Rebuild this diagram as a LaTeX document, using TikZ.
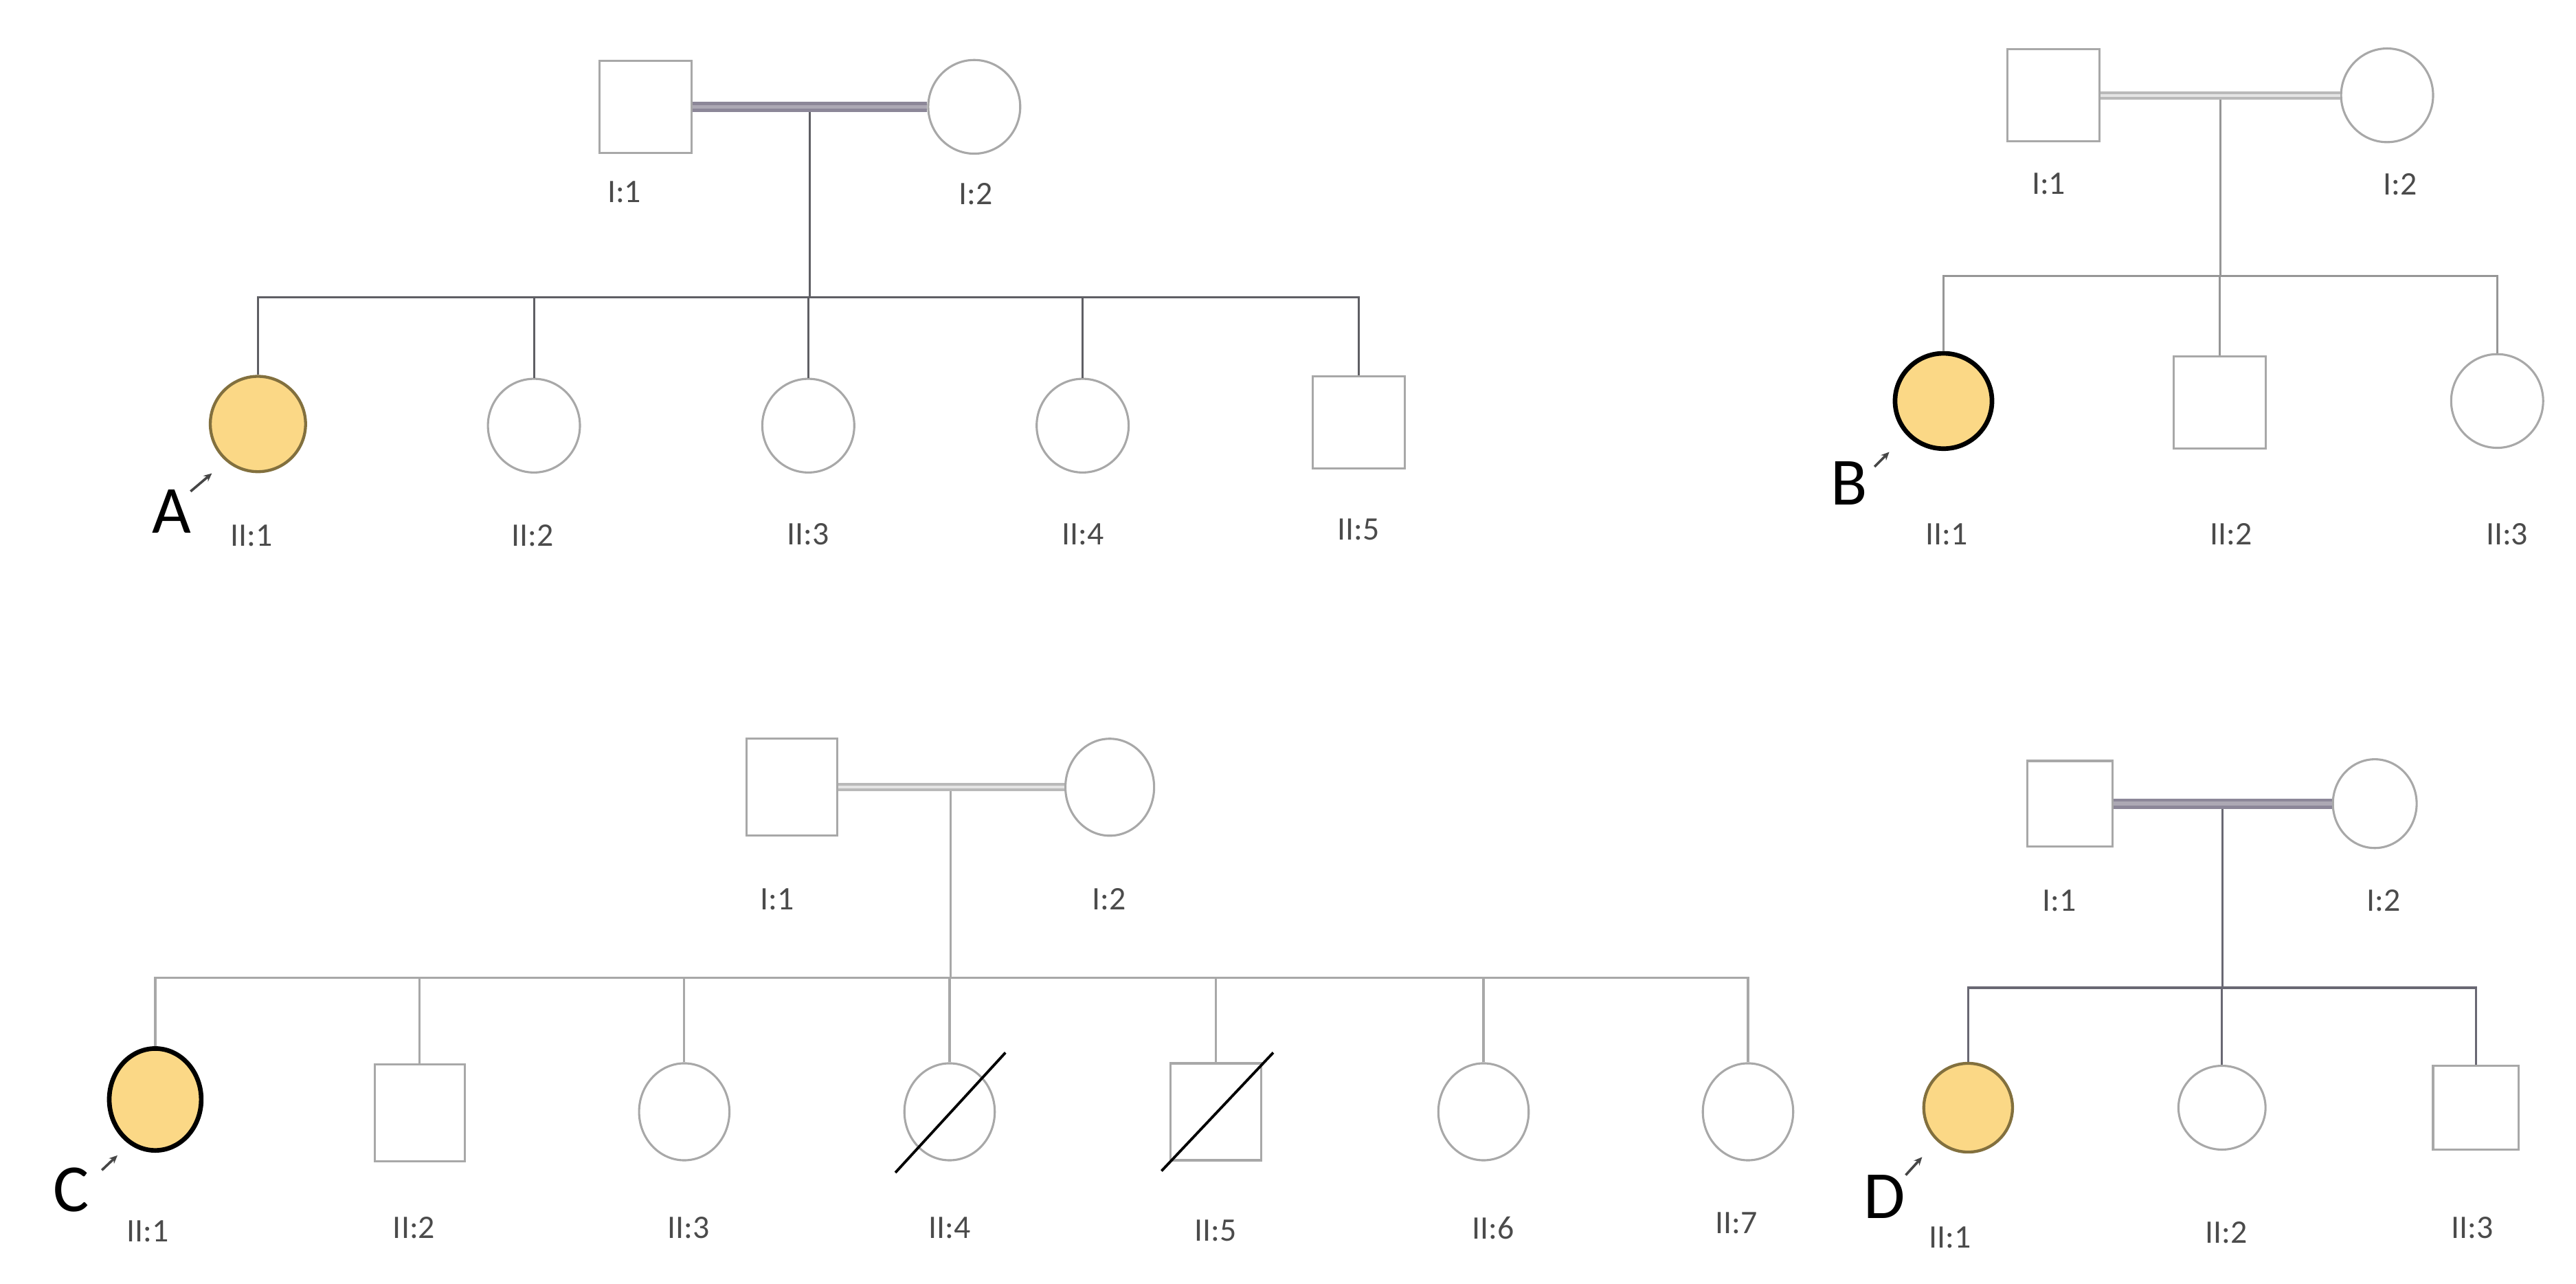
\documentclass[tikz,border=0pt]{standalone}
\usepackage{fontspec}
\setmainfont{Carlito}
\usepackage{xcolor}
\usepackage{tikz}
\usetikzlibrary{arrows.meta, shapes.geometric, calc}
\definecolor{affyellow}{RGB}{251,216,134}
\definecolor{affedge}{RGB}{130,112,62}
\definecolor{symgray}{RGB}{168,168,168}
\definecolor{lbldark}{RGB}{75,75,75}
\definecolor{linedark}{RGB}{95,95,100}
\definecolor{linemid}{RGB}{150,150,150}
\definecolor{linelight}{RGB}{168,168,168}
\definecolor{lineplum}{RGB}{105,104,115}
\definecolor{matedark}{RGB}{140,135,152}
\definecolor{matedarkin}{RGB}{172,168,180}
\definecolor{matelight}{RGB}{185,185,185}
\definecolor{matelightin}{RGB}{228,228,228}
\definecolor{pointgray}{RGB}{70,70,70}
\tikzset{
  male/.style={rectangle, draw=symgray, line width=1.3pt, minimum size=56pt, inner sep=0pt},
  female/.style={ellipse, draw=symgray, line width=1.3pt, minimum width=56pt, minimum height=57pt, inner sep=0pt},
  affected/.style={fill=affyellow, draw=affedge, line width=1.8pt},
  affblack/.style={fill=affyellow, draw=black, line width=2.8pt},
  line/.style={line width=1.3pt},
  mate/.style={double, line width=1.9pt, double distance=2.4pt},
  gone/.style={line width=1.6pt, color=black},
  idlabel/.style={font=\fontsize{20}{24}\selectfont, text=lbldark, inner sep=0pt},
  lettertag/.style={font=\fontsize{41}{48}\selectfont, inner sep=0pt},
  pointer/.style={-{Stealth[length=5pt, width=4.5pt]}, line width=1.5pt, color=pointgray}
}

\begin{document}
\begin{tikzpicture}[x=1pt, y=-1pt]
  \useasboundingbox (0,0) rectangle (1568,781);

  % Family A
  \node[male] (a11) at (393,65) {};
  \node[female] (a12) at (593,65) {};
  \coordinate (am) at ($(a11)!0.5!(a12)$);
  \coordinate (as) at (am |- 0,181);
  \node[female, affected, minimum width=58pt, minimum height=58pt] (a21) at (157,258) {};
  \node[female] (a22) at (325,259) {};
  \node[female] (a23) at (492,259) {};
  \node[female] (a24) at (659,259) {};
  \node[male] (a25) at (827,257) {};
  \draw[line, linedark] (am) -- (as);
  \draw[line, linedark] (a21.north) |- (as) -| (a25.north);
  \draw[line, linedark] (a22.north) -- (a22.north |- as);
  \draw[line, linedark] (a23.north) -- (a23.north |- as);
  \draw[line, linedark] (a24.north) -- (a24.north |- as);
  \draw[mate, draw=matedark, double=matedarkin] (a11) -- (a12);
  \node[idlabel] (la11) at (380,117) {I:1};
  \node[idlabel] (la12) at (594,118) {I:2};
  \node[idlabel] (la21) at (153,326) {II:1};
  \node[idlabel] (la22) at (324,326) {II:2};
  \node[idlabel] (la23) at (492,325) {II:3};
  \node[idlabel] (la24) at (659,325) {II:4};
  \node[idlabel] (la25) at (827,322) {II:5};
  \node[lettertag] (tagA) at (104.5,311) {A};
  \draw[pointer] ($(tagA)+(11.5,-12)$) -- ($(a21)+(-28,30)$);

  % Family B
  \node[male] (b11) at (1250,58) {};
  \node[female] (b12) at (1453,58) {};
  \coordinate (bm) at ($(b11)!0.5!(b12)$);
  \coordinate (bs) at (bm |- 0,168);
  \node[female, affblack, minimum width=59pt, minimum height=58pt] (b21) at (1183,244) {};
  \node[male] (b22) at (1351,245) {};
  \node[female] (b23) at (1520,244) {};
  \draw[line, linemid] (bm) -- (bs);
  \draw[line, linemid] (b21.north) |- (bs) -| (b23.north);
  \draw[line, linemid] (b22.north) -- (b22.north |- bs);
  \draw[mate, draw=matelight, double=matelightin, line width=1.6pt, double distance=1.8pt] (b11) -- (b12);
  \node[idlabel] (lb11) at (1247,112) {I:1};
  \node[idlabel] (lb12) at (1461,112) {I:2};
  \node[idlabel] (lb21) at (1185,325) {II:1};
  \node[idlabel] (lb22) at (1358,325) {II:2};
  \node[idlabel] (lb23) at (1526,325) {II:3};
  \node[lettertag] (tagB) at (1125.5,294) {B};
  \draw[pointer] ($(tagB)+(15.5,-10)$) -- ($(b21)+(-33,31)$);

  % Family C
  \node[male, minimum width=55pt, minimum height=59pt] (c11) at (482,479) {};
  \node[female, minimum width=54pt, minimum height=59pt] (c12) at (675.5,479) {};
  \coordinate (cm) at ($(c11)!0.5!(c12)$);
  \coordinate (cs) at (cm |- 0,595);
  \node[female, affblack, minimum width=56pt, minimum height=62pt] (c21) at (94.5,669) {};
  \node[male, minimum width=55pt, minimum height=59pt] (c22) at (255.5,677) {};
  \node[female, minimum width=55pt, minimum height=59pt] (c23) at (416.5,676.5) {};
  \node[female, minimum width=55pt, minimum height=59pt] (c24) at (578,676.5) {};
  \node[male, minimum width=55pt, minimum height=59pt] (c25) at (740,676.5) {};
  \node[female, minimum width=55pt, minimum height=59pt] (c26) at (903,676.5) {};
  \node[female, minimum width=55pt, minimum height=59pt] (c27) at (1064,676.5) {};
  \draw[line, linelight] (cm) -- (cs);
  \draw[line, linelight] (c21.north) |- (cs) -| (c27.north);
  \draw[line, linelight] (c22.north) -- (c22.north |- cs);
  \draw[line, linelight] (c23.north) -- (c23.north |- cs);
  \draw[line, linelight] (c24.north) -- (c24.north |- cs);
  \draw[line, linelight] (c25.north) -- (c25.north |- cs);
  \draw[line, linelight] (c26.north) -- (c26.north |- cs);
  \draw[mate, draw=matelight, double=matelightin, line width=1.6pt, double distance=1.8pt] (c11) -- (c12);
  \draw[gone] ($(c24)+(-33,37)$) -- ($(c24)+(34,-36)$);
  \draw[gone] ($(c25)+(-33,36)$) -- ($(c25)+(35,-36)$);
  \node[idlabel] (lc11) at (473,547) {I:1};
  \node[idlabel] (lc12) at (675,547) {I:2};
  \node[idlabel] (lc21) at (90,749) {II:1};
  \node[idlabel] (lc22) at (252,747) {II:2};
  \node[idlabel] (lc23) at (419,747) {II:3};
  \node[idlabel] (lc24) at (578,747) {II:4};
  \node[idlabel] (lc25) at (740,749) {II:5};
  \node[idlabel] (lc26) at (909,747) {II:6};
  \node[idlabel] (lc27) at (1057,744) {II:7};
  \node[lettertag] (tagC) at (43.5,724) {C};
  \draw[pointer] ($(tagC)+(18.5,-12)$) -- ($(c21)+(-23,34)$);

  % Family D
  \node[male, minimum size=52pt] (d11) at (1260,489) {};
  \node[female, minimum width=51pt, minimum height=54pt] (d12) at (1445.5,489) {};
  \coordinate (dm) at ($(d11)!0.5!(d12)$);
  \coordinate (ds) at (dm |- 0,601);
  \node[female, affected, minimum width=54pt, minimum height=54pt] (d21) at (1198,674) {};
  \node[female, minimum width=53pt, minimum height=51pt] (d22) at (1352.5,674) {};
  \node[male, minimum width=52pt, minimum height=51pt] (d23) at (1507,674) {};
  \draw[line, lineplum] (dm) -- (ds);
  \draw[line, lineplum] (d21.north) |- (ds) -| (d23.north);
  \draw[line, lineplum] (d22.north) -- (d22.north |- ds);
  \draw[mate, draw=matedark, double=matedarkin] (d11) -- (d12);
  \node[idlabel] (ld11) at (1253.5,548) {I:1};
  \node[idlabel] (ld12) at (1451,548) {I:2};
  \node[idlabel] (ld21) at (1187,753) {II:1};
  \node[idlabel] (ld22) at (1355,750) {II:2};
  \node[idlabel] (ld23) at (1505,747) {II:3};
  \node[lettertag] (tagD) at (1147,728) {D};
  \draw[pointer] ($(tagD)+(13,-13)$) -- ($(d21)+(-28,30)$);
\end{tikzpicture}
\end{document}
